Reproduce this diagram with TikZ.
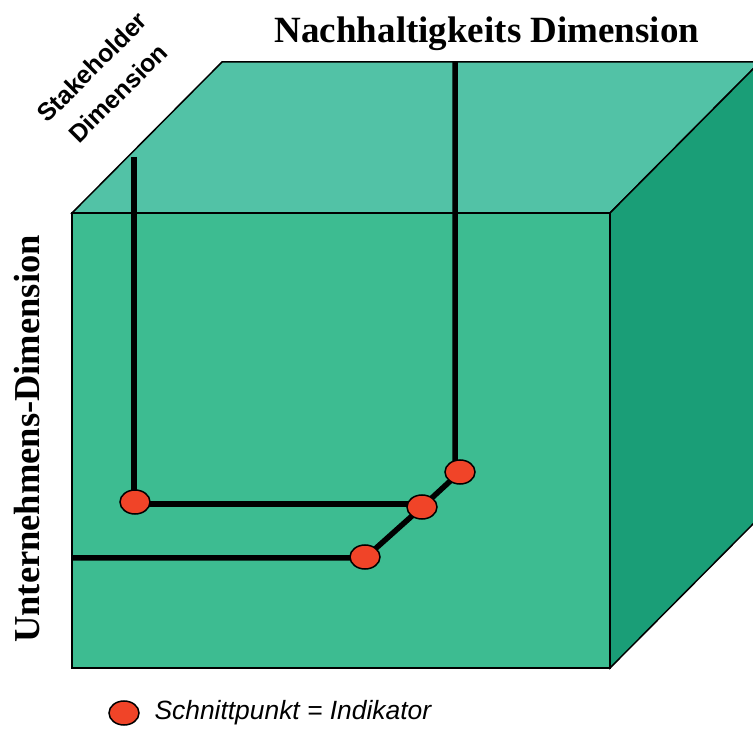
\documentclass[tikz,border=0pt]{standalone}
\usepackage{fontspec}
\setmainfont{Liberation Serif}
\setsansfont{Liberation Sans}
\usepackage{xcolor}
\usepackage{tikz}
\usetikzlibrary{shapes.geometric}
\definecolor{frontgreen}{HTML}{3DBC91}
\definecolor{topgreen}{HTML}{52C2A6}
\definecolor{sidegreen}{HTML}{1A9E77}
\definecolor{dotred}{HTML}{F04428}
\tikzset{
  face/.style={draw=black,line width=1.5pt,line join=miter},
  track/.style={draw=black,line width=5.5pt},
  schnitt/.style={ellipse,draw=black,line width=1.5pt,fill=dotred,
    minimum width=30pt,minimum height=24pt,inner sep=0pt}
}

\begin{document}
\begin{tikzpicture}[x=1pt,y=1pt]
  \useasboundingbox (0,0) rectangle (753,729);
  \begin{scope}
    \clip (0,0) rectangle (753,729);
    \draw[face,fill=topgreen] (72,516)--(222,667)--(760,667)--(610,516)--cycle;
    \draw[face,fill=sidegreen] (610,516)--(760,667)--(760,212)--(610,61)--cycle;
    \draw[face,fill=frontgreen] (72,61) rectangle (610,516);
  \end{scope}
  % Achsen-Endpunkte und Schnittpunkte
  \coordinate (stop) at (134,572);
  \coordinate (ntop) at (455,667);
  \coordinate (uleft) at (72,171);
  \coordinate (s1) at (135,225);
  \coordinate (p2) at (422,222);
  \coordinate (n1) at (460,257);
  \coordinate (u1) at (365,171);
  \draw[track] (stop) -- (stop |- s1);
  \draw[track] (s1) -- (s1 -| p2);
  \draw[track] (ntop) -- (ntop |- n1) -- (n1) -- (p2) -- (u1) -- (uleft);
  \node[schnitt] (s1dot) at (135,227) {};
  \node[schnitt] (p2dot) at (p2) {};
  \node[schnitt] (n1dot) at (n1) {};
  \node[schnitt] (u1dot) at (365,172) {};
  % Beschriftungen
  \node[font=\bfseries\fontsize{37}{37}\selectfont] (nach) at (487,695)
    {Nachhaltigkeits Dimension};
  \node[font=\bfseries\fontsize{36.5}{36.5}\selectfont,rotate=90] (unt) at (27,290)
    {Unternehmens-Dimension};
  \node[font=\sffamily\bfseries\fontsize{25}{37}\selectfont,rotate=45,align=center]
    (stake) at (105,649) {Stakeholder\\Dimension};
  \node[schnitt] (leg) at (124,16) {};
  \node[font=\sffamily\itshape\fontsize{26.4}{26.4}\selectfont,anchor=west] (legtext)
    at (151,16) {Schnittpunkt = Indikator};
\end{tikzpicture}
\end{document}
